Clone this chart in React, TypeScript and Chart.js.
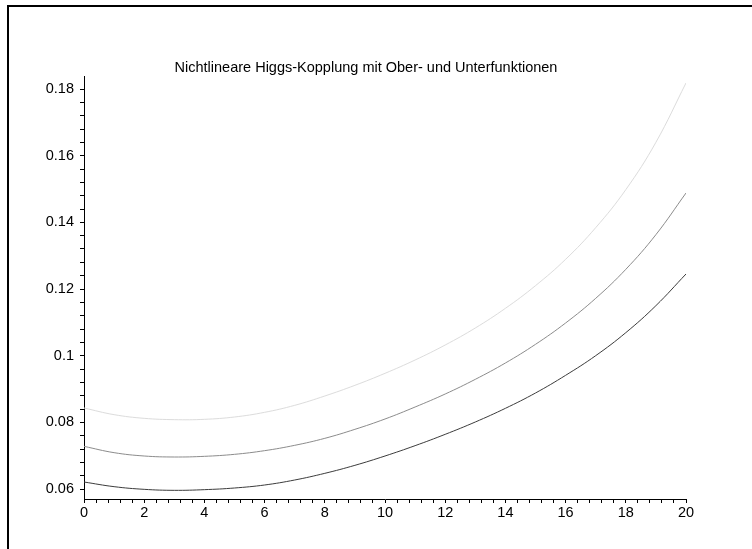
import { useEffect, useRef } from 'react';
import { Chart, registerables } from 'chart.js';
Chart.register(...registerables);

const titleText = 'Nichtlineare Higgs-Kopplung mit Ober- und Unterfunktionen';
const xValues = [0, 1, 2, 3, 4, 5, 6, 7, 8, 9, 10, 11, 12, 13, 14, 15, 16, 17, 18, 19, 20];
const upperSeries = [0.0843, 0.0823, 0.0812, 0.0808, 0.0809, 0.0816, 0.0830, 0.0851, 0.0879, 0.0911, 0.0947, 0.0987, 0.1032, 0.1083, 0.1142, 0.1210, 0.1289, 0.1384, 0.1498, 0.1640, 0.1818];
const middleSeries = [0.0728, 0.0709, 0.0699, 0.0696, 0.0698, 0.0704, 0.0715, 0.0731, 0.0752, 0.0779, 0.0810, 0.0846, 0.0885, 0.0929, 0.0978, 0.1034, 0.1098, 0.1172, 0.1259, 0.1363, 0.1488];
const lowerSeries = [0.0621, 0.0607, 0.0599, 0.0596, 0.0598, 0.0603, 0.0612, 0.0627, 0.0647, 0.0671, 0.0699, 0.0730, 0.0764, 0.0801, 0.0842, 0.0888, 0.0941, 0.1000, 0.1069, 0.1150, 0.1245];
const xTickLabels = ['0', '2', '4', '6', '8', '10', '12', '14', '16', '18', '20'];
const yTickLabels = ['0.06', '0.08', '0.1', '0.12', '0.14', '0.16', '0.18'];
const xRange = [0, 20];
const yRange = [0.057, 0.1839];

const FONT = "'Liberation Sans', Arial, sans-serif";

function minorTicks(start: number, end: number, step: number) {
  const out: number[] = [];
  const n = Math.round((end - start) / step);
  for (let i = 0; i <= n; i++) out.push(+(start + i * step).toFixed(6));
  return out;
}

function labelFor(value: number, labels: string[]) {
  const hit = labels.find((l) => Math.abs(Number(l) - value) < 1e-6);
  return hit ?? '';
}

const framePlugin = {
  id: 'frameAndTitle',
  beforeDraw(chart: any) {
    const ctx = chart.ctx;
    ctx.save();
    ctx.fillStyle = '#ffffff';
    ctx.fillRect(0, 0, chart.width, chart.height);
    ctx.fillStyle = '#000000';
    ctx.fillRect(7, 5, 2, chart.height - 5);
    ctx.fillRect(7, 5, chart.width - 7, 2);
    ctx.restore();
  },
  afterDraw(chart: any) {
    const ctx = chart.ctx;
    ctx.save();
    ctx.fillStyle = '#000000';
    ctx.font = `14.5px ${FONT}`;
    ctx.textAlign = 'center';
    ctx.textBaseline = 'alphabetic';
    ctx.fillText(titleText, 366, 72);
    ctx.restore();
  },
};

export default function App() {
  const ref = useRef<HTMLCanvasElement | null>(null);
  useEffect(() => {
    if (!ref.current) return;
    const mk = (ys: number[]) => xValues.map((x, i) => ({ x, y: ys[i] }));
    const chart = new Chart(ref.current, {
      type: 'line',
      data: {
        datasets: [
          { data: mk(upperSeries), borderColor: '#dcdcdc', borderWidth: 1, pointRadius: 0, tension: 0.4, fill: false },
          { data: mk(middleSeries), borderColor: '#8c8c8c', borderWidth: 1, pointRadius: 0, tension: 0.4, fill: false },
          { data: mk(lowerSeries), borderColor: '#3c3c3c', borderWidth: 1, pointRadius: 0, tension: 0.4, fill: false },
        ],
      },
      options: {
        responsive: false,
        animation: false,
        events: [],
        layout: { padding: { left: 0, top: 76, right: 66, bottom: 0 } },
        plugins: { legend: { display: false }, title: { display: false }, tooltip: { enabled: false } },
        scales: {
          x: {
            type: 'linear',
            min: xRange[0],
            max: xRange[1],
            afterFit: (s: any) => { s.height = 50; },
            afterBuildTicks: (s: any) => { s.ticks = minorTicks(0, 20, 0.4).map((v) => ({ value: v })); },
            border: { display: true, color: '#000', width: 1 },
            grid: { display: true, drawOnChartArea: false, drawTicks: true, tickLength: 4, tickColor: '#000', tickWidth: 1 },
            ticks: {
              autoSkip: false,
              maxRotation: 0,
              padding: 1,
              color: '#000',
              font: { family: FONT, size: 14.5 },
              callback: (v: any) => labelFor(Number(v), xTickLabels),
            },
          },
          y: {
            type: 'linear',
            min: yRange[0],
            max: yRange[1],
            afterFit: (s: any) => { s.width = 84; },
            afterBuildTicks: (s: any) => { s.ticks = minorTicks(0.06, 0.18, 0.004).map((v) => ({ value: v })); },
            border: { display: true, color: '#000', width: 1 },
            grid: { display: true, drawOnChartArea: false, drawTicks: true, tickLength: 4, tickColor: '#000', tickWidth: 1 },
            ticks: {
              autoSkip: false,
              padding: 6,
              color: '#000',
              font: { family: FONT, size: 14.5 },
              callback: (v: any) => labelFor(Number(v), yTickLabels),
            },
          },
        },
      },
      plugins: [framePlugin],
    });
    return () => chart.destroy();
  }, []);
  return (
    <div style={{ position: 'fixed', left: 0, top: 0, width: 752, height: 549, background: '#fff' }}>
      <canvas ref={ref} width={752} height={549} style={{ display: 'block', width: 752, height: 549 }} />
    </div>
  );
}
